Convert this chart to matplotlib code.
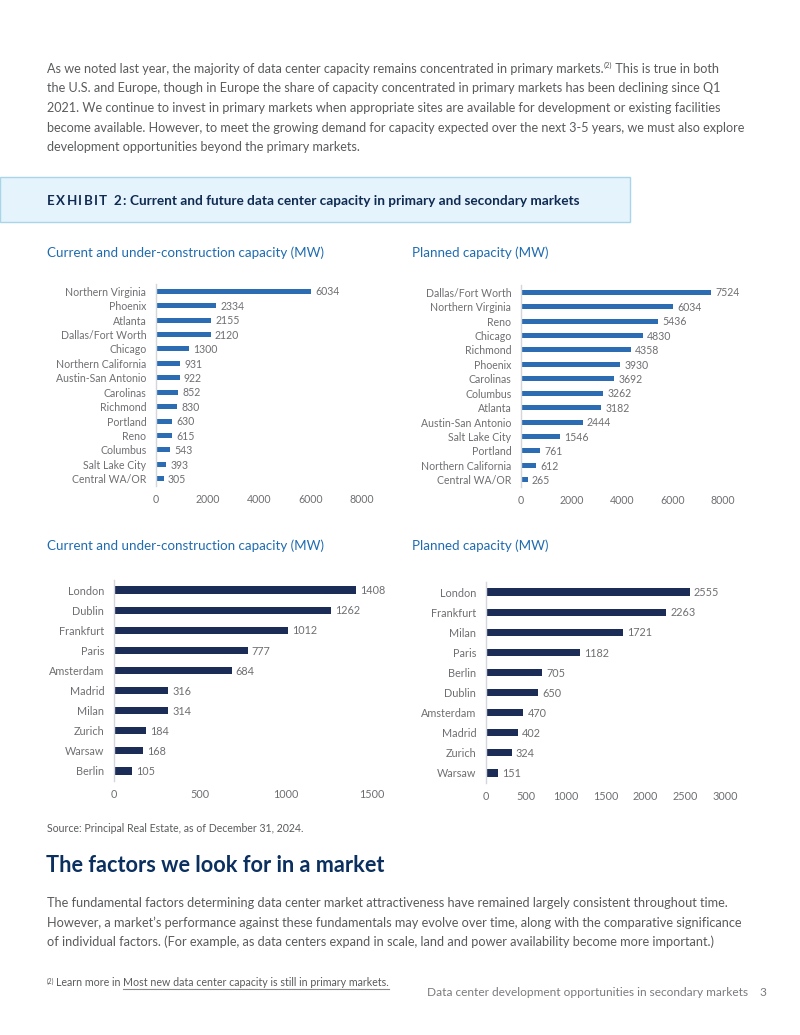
import matplotlib
matplotlib.use("Agg")
import matplotlib.pyplot as plt
from matplotlib.patches import Rectangle

W, H = 800, 1035

# ---------------- data ----------------
us_current_markets = ["Northern Virginia", "Phoenix", "Atlanta", "Dallas/Fort Worth", "Chicago",
                      "Northern California", "Austin-San Antonio", "Carolinas", "Richmond",
                      "Portland", "Reno", "Columbus", "Salt Lake City", "Central WA/OR"]
us_current_mw = [6034, 2334, 2155, 2120, 1300, 931, 922, 852, 830, 630, 615, 543, 393, 305]

us_planned_markets = ["Dallas/Fort Worth", "Northern Virginia", "Reno", "Chicago", "Richmond",
                      "Phoenix", "Carolinas", "Columbus", "Atlanta", "Austin-San Antonio",
                      "Salt Lake City", "Portland", "Northern California", "Central WA/OR"]
us_planned_mw = [7524, 6034, 5436, 4830, 4358, 3930, 3692, 3262, 3182, 2444, 1546, 761, 612, 265]

eu_current_markets = ["London", "Dublin", "Frankfurt", "Paris", "Amsterdam", "Madrid", "Milan",
                      "Zurich", "Warsaw", "Berlin"]
eu_current_mw = [1408, 1262, 1012, 777, 684, 316, 314, 184, 168, 105]

eu_planned_markets = ["London", "Frankfurt", "Milan", "Paris", "Berlin", "Dublin", "Amsterdam",
                      "Madrid", "Zurich", "Warsaw"]
eu_planned_mw = [2555, 2263, 1721, 1182, 705, 650, 470, 402, 324, 151]

us_ticks = [0, 2000, 4000, 6000, 8000]
eu_current_ticks = [0, 500, 1000, 1500]
eu_planned_ticks = [0, 500, 1000, 1500, 2000, 2500, 3000]

# ---------------- style ----------------
FONT = "Lato"
plt.rcParams["font.family"] = [FONT, "DejaVu Sans"]
BODY_C = "#5a5b5d"
LABEL_C = "#6e6f72"
SUB_C = "#1f6bb0"
NAVY_T = "#0f2b52"
HEAD_C = "#0b2f5e"
BLUE_BAR = "#2c6cb3"
NAVY_BAR = "#1b2d57"
AXIS_C = "#d3d6da"

fig = plt.figure(figsize=(W / 100, H / 100), dpi=100)
bg = fig.add_axes([0, 0, 1, 1], zorder=0)
bg.set_xlim(0, W)
bg.set_ylim(H, 0)
bg.axis("off")
renderer = fig.canvas.get_renderer()


def put(x, y, s, **kw):
    t = bg.text(x, y, s, va="center", ha="left", **kw)
    bb = t.get_window_extent(renderer)
    return x + bb.width  # pixel units (dpi 100, data = pixels horizontally)


def put_pieces(x, y, pieces):
    for p in pieces:
        s, kw = p
        dy = kw.pop("dy", 0)
        x = put(x, y + dy, s, **kw)
    return x


# ---------------- intro paragraph ----------------
bfs = 9.08
body_lines = [
    None,
    "the U.S. and Europe, though in Europe the share of capacity concentrated in primary markets has been declining since Q1",
    "2021. We continue to invest in primary markets when appropriate sites are available for development or existing facilities",
    "become available. However, to meet the growing demand for capacity expected over the next 3-5 years, we must also explore",
    "development opportunities beyond the primary markets.",
]
body_y = [69, 88.5, 108, 127.5, 147]
put_pieces(47, body_y[0], [
    ("As we noted last year, the majority of data center capacity remains concentrated in primary markets.",
     dict(fontsize=bfs, color=BODY_C)),
    ("(2)", dict(fontsize=5.3, color=BODY_C, dy=-4)),
    (" This is true in both", dict(fontsize=bfs, color=BODY_C)),
])
for yy, line in zip(body_y[1:], body_lines[1:]):
    put(47, yy, line, fontsize=bfs, color=BODY_C)

# ---------------- exhibit banner ----------------
bg.add_patch(Rectangle((0, 177), 630, 45, facecolor="#e4f3fc", edgecolor="#a9d5ea", lw=1.0, zorder=1))
x = 47
for ch in "EXHIBIT 2:":
    x = put(x, 201, ch, fontsize=9.6, fontweight="bold", color=NAVY_T, zorder=2) + 1.4
put(x + 3, 201, "Current and future data center capacity in primary and secondary markets",
    fontsize=9.8, fontweight="bold", color=NAVY_T, zorder=2)

# ---------------- subtitles ----------------
sfs = 9.6
put(47, 253, "Current and under-construction capacity (MW)", fontsize=sfs, color=SUB_C)
put(412, 253, "Planned capacity (MW)", fontsize=sfs, color=SUB_C)
put(47, 546, "Current and under-construction capacity (MW)", fontsize=sfs, color=SUB_C)
put(412, 546, "Planned capacity (MW)", fontsize=sfs, color=SUB_C)


# ---------------- bar panels ----------------
def px_axes(left, top, right, bottom):
    return fig.add_axes([left / W, 1 - bottom / H, (right - left) / W, (bottom - top) / H], zorder=3)


def bar_panel(rect, cats, vals, ticks, color, height, fs, gap):
    ax = px_axes(*rect)
    ax.patch.set_alpha(0)
    ys = list(range(len(cats)))
    ax.barh(ys, vals, height=height, color=color)
    ax.set_ylim(len(cats) - 0.5, -0.5)
    ax.set_xlim(ticks[0], ticks[-1])
    ax.set_xticks(ticks)
    ax.set_xticklabels([str(t) for t in ticks])
    ax.set_yticks(ys)
    ax.set_yticklabels(cats)
    ax.tick_params(axis="both", length=0, labelsize=fs, colors=LABEL_C)
    ax.tick_params(axis="y", pad=7)
    ax.tick_params(axis="x", pad=6)
    for s in ("top", "right", "bottom"):
        ax.spines[s].set_visible(False)
    ax.spines["left"].set_color(AXIS_C)
    ax.spines["left"].set_linewidth(1.0)
    for yi, v in zip(ys, vals):
        ax.annotate(str(v), (v, yi), xytext=(gap, -0.5), textcoords="offset points",
                    va="center", ha="left", fontsize=fs, color=LABEL_C, annotation_clip=False)
    return ax


bar_panel((156, 284, 362, 486), us_current_markets, us_current_mw, us_ticks, BLUE_BAR, 0.34, 7.6, 3)
bar_panel((521, 285, 723, 487), us_planned_markets, us_planned_mw, us_ticks, BLUE_BAR, 0.34, 7.6, 3)
bar_panel((114, 580, 372, 781), eu_current_markets, eu_current_mw, eu_current_ticks, NAVY_BAR, 0.36, 7.8, 3)
bar_panel((486, 582, 725, 783), eu_planned_markets, eu_planned_mw, eu_planned_ticks, NAVY_BAR, 0.36, 7.8, 3)

# ---------------- lower text ----------------
put(47, 829, "Source: Principal Real Estate, as of December 31, 2024.", fontsize=7.6, color=BODY_C)
put(46, 866, "The factors we look for in a market", fontsize=15.6, fontweight="bold", color=HEAD_C)
lower_lines = [
    "The fundamental factors determining data center market attractiveness have remained largely consistent throughout time.",
    "However, a market\u2019s performance against these fundamentals may evolve over time, along with the comparative significance",
    "of individual factors. (For example, as data centers expand in scale, land and power availability become more important.)",
]
for yy, line in zip([903, 922.5, 942], lower_lines):
    put(47, yy, line, fontsize=9.15, color=BODY_C)

# footnote
x = put(47, 981, "(2)", fontsize=4.8, color=BODY_C)
x = put(x + 1.5, 983, "Learn more in ", fontsize=7.65, color=BODY_C)
x_link0 = x
x_link1 = put(x, 983, "Most new data center capacity is still in primary markets.", fontsize=7.65, color=BODY_C)
bg.plot([x_link0, x_link1], [988.5, 988.5], color="#8a8b8d", lw=0.8)

# page footer
bg.text(748, 993, "Data center development opportunities in secondary markets", fontsize=8.55,
        color="#7a7b7e", ha="right", va="center")
bg.text(763, 993, "3", fontsize=8.6, color="#7a7b7e", ha="center", va="center")

fig.savefig("out.png", dpi=100)
